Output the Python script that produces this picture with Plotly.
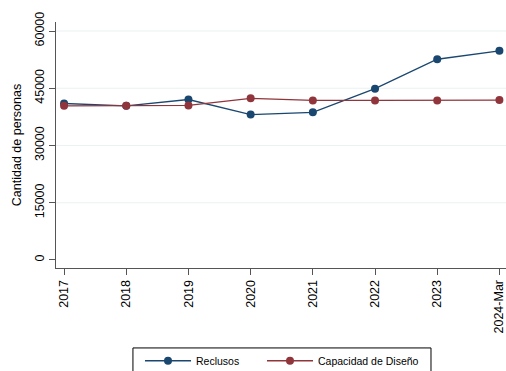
import plotly.graph_objects as go

years = ["2017", "2018", "2019", "2020", "2021", "2022", "2023", "2024-Mar"]
reclusos = [41000, 40400, 42050, 38100, 38700, 44900, 52600, 54800]
capacidad = [40400, 40400, 40500, 42350, 41800, 41800, 41800, 41900]
y_ticks = [0, 15000, 30000, 45000, 60000]
y_labels = ["0", "15000", "30000", "45000", "60000"]

navy = "#1a476f"
maroon = "#90353b"
font_family = "Liberation Sans, Arial, Helvetica, sans-serif"

xs = list(range(len(years)))

fig = go.Figure()
fig.add_trace(go.Scatter(x=xs, y=reclusos, mode="lines+markers", name="Reclusos",
                         line=dict(color=navy, width=1.3),
                         marker=dict(color=navy, size=8), legend="legend"))
fig.add_trace(go.Scatter(x=xs, y=capacidad, mode="lines+markers", name="Capacidad de Diseño",
                         line=dict(color=maroon, width=1.3),
                         marker=dict(color=maroon, size=8), legend="legend2"))

for v in y_ticks[1:]:
    fig.add_shape(type="line", xref="paper", x0=0, x1=1, yref="y", y0=v, y1=v,
                  line=dict(color="#eaf2f3", width=1.2), layer="below")

# legend frame
fig.add_shape(type="rect", xref="paper", yref="paper", x0=0.171, x1=0.8333,
              y0=-0.325, y1=-0.48, line=dict(color="#000000", width=1),
              fillcolor="rgba(0,0,0,0)")

leg_common = dict(orientation="h", yanchor="middle", y=-0.377, xanchor="left",
                  bgcolor="rgba(0,0,0,0)", borderwidth=0, font=dict(size=10.5),
                  itemwidth=46)

fig.update_layout(
    width=506, height=371,
    margin=dict(l=56, r=0, t=22, b=103, autoexpand=False),
    paper_bgcolor="white", plot_bgcolor="white",
    font=dict(family=font_family, size=12.5, color="#000000"),
    showlegend=True,
    legend=dict(x=(140 - 56) / 450, **leg_common),
    legend2=dict(x=(262 - 56) / 450, **leg_common),
    xaxis=dict(range=[-0.13, 7.106], tickmode="array", tickvals=xs, ticktext=years,
               tickangle=-90, ticks="outside", ticklen=6, tickcolor="#555",
               showline=True, linecolor="#555", linewidth=1, showgrid=False,
               zeroline=False, tickfont=dict(size=12.5), ticklabeloverflow="allow",
               automargin=False),
    yaxis=dict(range=[-2100, 62360], tickmode="array", tickvals=y_ticks, ticktext=y_labels,
               tickangle=-90, ticks="outside", ticklen=6, tickcolor="#555",
               showline=True, linecolor="#555", linewidth=1, showgrid=False,
               zeroline=False, tickfont=dict(size=12.5), automargin=False,
               title=dict(text="Cantidad de personas", font=dict(size=12.5), standoff=8)),
)

fig.write_html("out.html")
